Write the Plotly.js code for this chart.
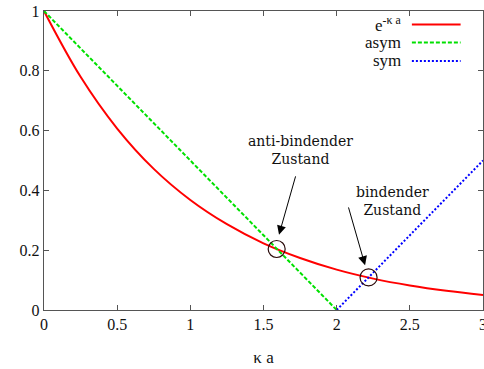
<!DOCTYPE html>
<html><head><meta charset="utf-8">
<script src="https://cdn.plot.ly/plotly-3.0.1.min.js"></script>
<style>html,body{margin:0;padding:0;background:#fff}#chart{width:484px;height:369px}</style>
</head><body><div id="chart"></div>
<script>
// e^{-κa} curve
const expX = [0, 0.25, 0.5, 0.75, 1, 1.25, 1.5, 1.75, 2, 2.25, 2.5, 2.75, 3];
const expY = [1, 0.78, 0.607, 0.472, 0.368, 0.287, 0.223, 0.174, 0.135, 0.105, 0.082, 0.064, 0.05];
// asym line
const asymX = [0, 2];
const asymY = [1, 0];
// sym line
const symX = [2, 3];
const symY = [0, 0.5];
// intersection circles
const circX = [1.59, 2.218];
const circY = [0.204, 0.109];
// annotation labels
const labels = ["anti-bindender<br>Zustand", "bindender<br>Zustand"];
const labelX = [1.75, 2.38];
const labelY = [0.535, 0.365];
const arrowTailX = [1.722, 2.078];
const arrowTailY = [0.452, 0.348];
const arrowHeadX = [1.606, 2.194];
const arrowHeadY = [0.252, 0.15];
const legendNames = ["e<sup>-κ a</sup>", "asym", "sym"];
const xTicks = [0, 0.5, 1, 1.5, 2, 2.5, 3];
const yTicks = [0, 0.2, 0.4, 0.6, 0.8, 1];

const serif = "Liberation Serif";
const dvserif = "DejaVu Serif";
const traces = [
  {x: expX, y: expY, mode: 'lines', line: {color: '#ff0000', width: 2, shape: 'spline'}, showlegend: false, hoverinfo: 'skip'},
  {x: asymX, y: asymY, mode: 'lines', line: {color: '#00e000', width: 2, dash: '4px,2px'}, showlegend: false},
  {x: symX, y: symY, mode: 'lines', line: {color: '#0000ff', width: 2, dash: '2px,2px'}, showlegend: false},
  {x: circX, y: circY, mode: 'markers', marker: {symbol: 'circle-open', size: 17, color: '#2a0a0a', line: {width: 1.2, color: '#2a0a0a'}}, showlegend: false}
];

const annotations = [];
for (let i = 0; i < labels.length; i++) {
  annotations.push({x: labelX[i], y: labelY[i], xref: 'x', yref: 'y', text: labels[i], showarrow: false,
    font: {family: dvserif, size: 14, color: '#111'}, align: 'center'});
  annotations.push({x: arrowHeadX[i], y: arrowHeadY[i], ax: arrowTailX[i], ay: arrowTailY[i],
    xref: 'x', yref: 'y', axref: 'x', ayref: 'y', text: '', showarrow: true,
    arrowhead: 2, arrowsize: 1.8, arrowwidth: 1, arrowcolor: '#000'});
}
// legend (gnuplot style: text left, sample right)
const legColors = ['#ff0000', '#00e000', '#0000ff'];
const legDash = ['solid', '4px,2px', '2px,2px'];
const legY = [0.955, 0.895, 0.833];
const shapes = [];
for (let i = 0; i < legendNames.length; i++) {
  annotations.push({x: 0.818, y: legY[i], xref: 'paper', yref: 'paper', text: legendNames[i], showarrow: false,
    xanchor: 'right', yanchor: 'middle', font: {family: serif, size: 17, color: '#111'}});
  shapes.push({type: 'line', xref: 'paper', yref: 'paper', x0: 0.838, x1: 0.949, y0: legY[i], y1: legY[i],
    line: {color: legColors[i], width: 2, dash: legDash[i]}});
}

const axisCommon = {
  showgrid: false, zeroline: false, showline: true, mirror: 'ticks', linecolor: '#555', linewidth: 1.2,
  ticks: 'inside', ticklen: 5, tickcolor: '#555', ticklabeloverflow: 'allow',
  tickfont: {family: serif, size: 16, color: '#111'}
};
const layout = {
  width: 484, height: 369,
  margin: {l: 44, r: 1, t: 11, b: 59},
  paper_bgcolor: '#fff', plot_bgcolor: '#fff',
  font: {family: serif},
  xaxis: Object.assign({}, axisCommon, {range: [0, 3], tickvals: xTicks, ticktext: xTicks.map(String),
    title: {text: 'κ a', font: {family: serif, size: 17, color: '#111'}, standoff: 18}}),
  yaxis: Object.assign({}, axisCommon, {range: [0, 1], tickvals: yTicks, ticktext: yTicks.map(String)}),
  annotations: annotations,
  shapes: shapes
};
Plotly.newPlot('chart', traces, layout, {staticPlot: true, displayModeBar: false});
</script></body></html>
